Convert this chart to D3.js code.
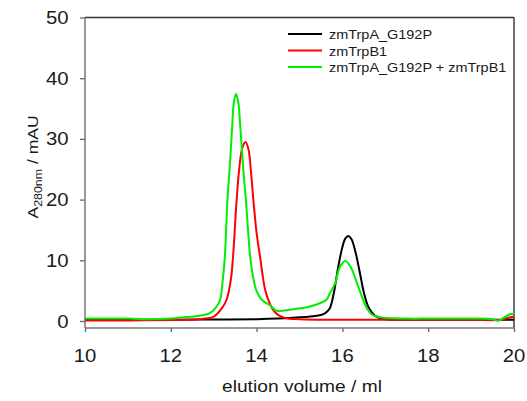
<!DOCTYPE html>
<html>
<head>
<meta charset="utf-8">
<script src="https://cdn.jsdelivr.net/npm/d3@7"></script>
<style>
  body { margin: 0; background: #fff; }
  svg { display: block; font-family: "Liberation Sans", Arial, sans-serif; }
</style>
</head>
<body>
<svg></svg>
<script>
// elution volume (ml) and A280 (mAU)
const blackX = [10, 11, 12, 13, 14, 14.5, 15, 15.3, 15.5, 15.6, 15.7, 15.8, 15.9, 16.0, 16.07, 16.14, 16.21, 16.3, 16.4, 16.5, 16.6, 16.7, 16.8, 17, 17.5, 18, 19, 20];
const blackY = [0.2, 0.2, 0.2, 0.25, 0.3, 0.4, 0.6, 0.8, 1.0, 1.3, 2.0, 4.6, 8.8, 12.2, 13.6, 14.0, 13.5, 11.5, 8.2, 4.7, 2.4, 1.3, 0.7, 0.3, 0.2, 0.2, 0.2, 0.2];

const redX = [10, 11, 12, 12.5, 12.8, 13.0, 13.2, 13.3, 13.4, 13.46, 13.53, 13.6, 13.67, 13.74, 13.81, 13.87, 13.93, 14.0, 14.08, 14.2, 14.3, 14.39, 14.5, 14.66, 15, 16, 17, 18, 19, 19.7, 19.85, 20];
const redY = [0.1, 0.1, 0.15, 0.2, 0.4, 0.7, 2.2, 3.5, 6.8, 11.5, 19.5, 25.4, 28.6, 29.5, 28.3, 24.5, 19.5, 14.5, 10.6, 5.1, 3.0, 1.8, 1.0, 0.5, 0.3, 0.2, 0.2, 0.2, 0.2, 0.2, 0.5, 0.7];

const greenX = [10, 11, 11.5, 12, 12.45, 12.7, 12.91, 13.05, 13.15, 13.2, 13.26, 13.32, 13.38, 13.43, 13.47, 13.52, 13.57, 13.62, 13.66, 13.7, 13.75, 13.8, 13.85, 13.9, 13.99, 14.12, 14.31, 14.47, 14.8, 15.2, 15.5, 15.63, 15.71, 15.83, 15.94, 16.07, 16.2, 16.37, 16.57, 16.7, 16.88, 17.5, 18, 19, 19.5, 19.63, 19.75, 19.91, 20];
const greenY = [0.4, 0.4, 0.3, 0.4, 0.7, 0.9, 1.3, 2.2, 3.5, 6.0, 10.6, 19.9, 26.0, 32.0, 36.0, 37.4, 36.2, 32.0, 28.0, 24.0, 20.0, 15.0, 10.6, 8.0, 5.1, 3.5, 2.6, 1.7, 1.9, 2.3, 3.0, 3.5, 4.6, 6.2, 8.9, 9.9, 8.8, 5.65, 2.1, 1.0, 0.6, 0.4, 0.4, 0.4, 0.3, 0.05, 0.5, 1.1, 1.2];

const seriesNames = ["zmTrpA_G192P", "zmTrpB1", "zmTrpA_G192P + zmTrpB1"];
const seriesColors = ["#000000", "#ff0000", "#00ee00"];
const xTicks = [10, 12, 14, 16, 18, 20];
const yTicks = [0, 10, 20, 30, 40, 50];

const series = [
    { name: seriesNames[0], color: seriesColors[0], pts: blackX.map((v, i) => [v, blackY[i]]) },
    { name: seriesNames[1], color: seriesColors[1], pts: redX.map((v, i) => [v, redY[i]]) },
    { name: seriesNames[2], color: seriesColors[2], pts: greenX.map((v, i) => [v, greenY[i]]) }
];

const width = 527, height = 401;
const stretch = 1.13; // text in the reference is a bit wide
const svg = d3.select("svg").attr("width", width).attr("height", height);

const x = d3.scaleLinear().domain([10, 20]).range([85, 514]);
const y = d3.scaleLinear().domain([0, 50]).range([321, 17.5]);
const frameBottom = 328;

// frame
svg.append("line").attr("x1", 85).attr("x2", 514).attr("y1", 17.5).attr("y2", 17.5)
   .attr("stroke", "#333").attr("stroke-width", 1.3);
svg.append("line").attr("x1", 514).attr("x2", 514).attr("y1", 17.5).attr("y2", frameBottom)
   .attr("stroke", "#222").attr("stroke-width", 1.3);

// y axis
const yAxis = svg.append("g")
    .attr("transform", "translate(85,0)")
    .call(d3.axisLeft(y).tickValues(yTicks).tickSize(5).tickPadding(0).tickFormat(""));
yAxis.select(".domain").remove();
yAxis.selectAll(".tick line").attr("stroke", "#666").attr("stroke-width", 1.3);
svg.append("line").attr("x1", 85).attr("x2", 85).attr("y1", 17.5).attr("y2", frameBottom)
   .attr("stroke", "#777").attr("stroke-width", 1.5);

yTicks.forEach(t => {
    svg.append("text")
       .attr("transform", `translate(68.5,${y(t) + 6.5}) scale(${stretch},1)`)
       .attr("text-anchor", "end")
       .attr("font-size", 18)
       .attr("fill", "#1a1a1a")
       .text(t);
});

// x axis
const xAxis = svg.append("g")
    .attr("transform", `translate(0,${frameBottom})`)
    .call(d3.axisBottom(x).tickValues(xTicks).tickSize(4).tickFormat(""));
xAxis.select(".domain").remove();
xAxis.selectAll(".tick line").attr("stroke", "#666").attr("stroke-width", 1.3);
svg.append("line").attr("x1", 85).attr("x2", 514).attr("y1", frameBottom).attr("y2", frameBottom)
   .attr("stroke", "#777").attr("stroke-width", 1.5);

xTicks.forEach(t => {
    svg.append("text")
       .attr("transform", `translate(${x(t)},362) scale(${stretch},1)`)
       .attr("text-anchor", "middle")
       .attr("font-size", 18)
       .attr("fill", "#1a1a1a")
       .text(t);
});

// axis titles
svg.append("text")
   .attr("transform", `translate(302,392) scale(${stretch},1)`)
   .attr("text-anchor", "middle")
   .attr("font-size", 17)
   .attr("fill", "#1a1a1a")
   .text("elution volume / ml");

const yTitle = svg.append("text")
   .attr("transform", `translate(38,167) rotate(-90) scale(${stretch},1)`)
   .attr("text-anchor", "middle")
   .attr("font-size", 15.5)
   .attr("fill", "#1a1a1a");
yTitle.append("tspan").text("A");
yTitle.append("tspan").attr("font-size", 11).attr("dy", 4).text("280nm");
yTitle.append("tspan").attr("dy", -4).text(" / mAU");

// traces
const line = d3.line()
    .x(d => x(d[0]))
    .y(d => y(d[1]))
    .curve(d3.curveCatmullRom.alpha(0.5));

svg.selectAll(".trace")
   .data(series)
   .enter()
   .append("path")
   .attr("class", "trace")
   .attr("d", d => line(d.pts))
   .attr("fill", "none")
   .attr("stroke", d => d.color)
   .attr("stroke-width", 2);

// legend
const legend = svg.append("g").attr("transform", "translate(288,34)");
series.forEach((s, i) => {
    const g = legend.append("g").attr("transform", `translate(0,${i * 16.5})`);
    g.append("line").attr("x1", 0).attr("x2", 34).attr("y1", 0).attr("y2", 0)
     .attr("stroke", s.color).attr("stroke-width", 2);
    g.append("text")
     .attr("transform", `translate(41,5) scale(${stretch},1)`)
     .attr("font-size", 12.8)
     .attr("fill", "#1a1a1a")
     .text(s.name);
});
</script>
</body>
</html>
